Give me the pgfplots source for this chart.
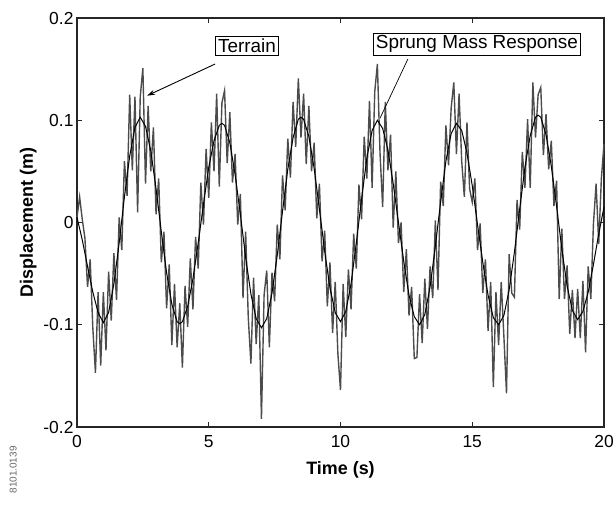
\documentclass[border=0pt]{standalone}
\usepackage{fontspec}
\setmainfont{Liberation Sans}
\usepackage{pgfplots}
\pgfplotsset{compat=1.18}
\usetikzlibrary{arrows.meta}

\begin{document}
\begin{tikzpicture}
\path[use as bounding box] (-77bp,-83bp) rectangle (536bp,427bp);
\begin{axis}[
  scale only axis, width=527bp, height=409bp,
  at={(0,0)}, anchor=south west,
  xmin=0, xmax=20, ymin=-0.2, ymax=0.2,
  xtick={0,5,10,15,20},
  ytick={-0.2,-0.1,0,0.1,0.2},
  yticklabels={-0.2,-0.1,0,0.1,0.2},
  tick align=inside, major tick length=5bp,
  axis line style={line width=1.1pt, black!85},
  tick style={black!85, line width=0.8pt},
  tick label style={font=\fontsize{17.5}{19}\selectfont},
  xticklabel style={/pgf/number format/assume math mode=true, yshift=-5bp},
  xlabel={Time (s)}, ylabel={Displacement (m)},
  label style={font=\fontsize{18}{20}\selectfont\bfseries},
  xlabel style={yshift=-7bp},
  clip=false,
]
% terrain profile
\addplot[black!70, line width=1.4pt] coordinates {
(0.0,0.005) (0.1,0.025) (0.2,0.003) (0.3,-0.015) (0.4,-0.063) (0.5,-0.036) (0.6,-0.103) (0.7,-0.147) (0.8,-0.068) (0.9,-0.140)
(1.0,-0.068) (1.1,-0.125) (1.2,-0.048) (1.3,-0.096) (1.4,-0.030) (1.5,-0.076) (1.6,0.005) (1.7,-0.027) (1.8,0.060) (1.9,0.026)
(2.0,0.125) (2.1,0.051) (2.2,0.123) (2.3,0.010) (2.4,0.123) (2.5,0.151) (2.6,0.038) (2.7,0.114) (2.8,0.050) (2.9,0.093)
(3.0,0.008) (3.1,0.043) (3.2,-0.039) (3.3,-0.009) (3.4,-0.084) (3.5,-0.041) (3.6,-0.120) (3.7,-0.060) (3.8,-0.122) (3.9,-0.079)
(4.0,-0.142) (4.1,-0.062) (4.2,-0.102) (4.3,-0.035) (4.4,-0.085) (4.5,-0.014) (4.6,-0.045) (4.7,0.039) (4.8,-0.002) (4.9,0.072)
(5.0,0.024) (5.1,0.098) (5.2,0.050) (5.3,0.126) (5.4,0.035) (5.5,0.117) (5.6,0.129) (5.7,0.058) (5.8,0.108) (5.9,0.039)
(6.0,0.067) (6.1,-0.002) (6.2,0.028) (6.3,-0.074) (6.4,-0.009) (6.5,-0.093) (6.6,-0.138) (6.7,-0.054) (6.8,-0.119) (6.9,-0.071)
(7.0,-0.192) (7.1,-0.071) (7.2,-0.047) (7.3,-0.122) (7.4,-0.049) (7.5,-0.077) (7.6,-0.002) (7.7,-0.036) (7.8,0.046) (7.9,0.012)
(8.0,0.082) (8.1,0.044) (8.2,0.118) (8.3,0.074) (8.4,0.141) (8.5,0.083) (8.6,0.126) (8.7,0.057) (8.8,0.114) (8.9,0.050)
(9.0,0.078) (9.1,0.004) (9.2,0.038) (9.3,-0.038) (9.4,-0.008) (9.5,-0.082) (9.6,-0.039) (9.7,-0.108) (9.8,-0.058) (9.9,-0.128)
(10.0,-0.164) (10.1,-0.060) (10.2,-0.112) (10.3,-0.046) (10.4,-0.085) (10.5,-0.011) (10.6,-0.045) (10.7,0.037) (10.8,0.003) (10.9,0.084)
(11.0,0.043) (11.1,0.119) (11.2,0.034) (11.3,0.128) (11.4,0.155) (11.5,0.068) (11.6,0.015) (11.7,0.118) (11.8,0.051) (11.9,0.086)
(12.0,-0.005) (12.1,0.050) (12.2,-0.020) (12.3,0.000) (12.4,-0.068) (12.5,-0.026) (12.6,-0.091) (12.7,-0.063) (12.8,-0.133) (12.9,-0.132)
(13.0,-0.070) (13.1,-0.118) (13.2,-0.055) (13.3,-0.104) (13.4,-0.043) (13.5,-0.074) (13.6,0.002) (13.7,-0.066) (13.8,0.040) (13.9,0.016)
(14.0,0.095) (14.1,0.056) (14.2,0.112) (14.3,0.137) (14.4,0.067) (14.5,0.126) (14.6,0.060) (14.7,0.025) (14.8,0.098) (14.9,0.033)
(15.0,0.020) (15.1,0.043) (15.2,-0.027) (15.3,-0.001) (15.4,-0.069) (15.5,-0.036) (15.6,-0.106) (15.7,-0.058) (15.8,-0.161) (15.9,-0.068)
(16.0,-0.120) (16.1,-0.058) (16.2,-0.111) (16.3,-0.167) (16.4,-0.031) (16.5,-0.069) (16.6,-0.073) (16.7,0.022) (16.8,-0.007) (16.9,0.069)
(17.0,0.034) (17.1,0.101) (17.2,0.034) (17.3,0.137) (17.4,0.083) (17.5,0.125) (17.6,0.132) (17.7,0.066) (17.8,0.106) (17.9,0.052)
(18.0,0.080) (18.1,0.016) (18.2,0.041) (18.3,-0.075) (18.4,-0.006) (18.5,-0.075) (18.6,-0.042) (18.7,-0.109) (18.8,-0.066) (18.9,-0.113)
(19.0,-0.065) (19.1,-0.113) (19.2,-0.057) (19.3,-0.127) (19.4,-0.043) (19.5,-0.075) (19.6,-0.001) (19.7,0.038) (19.8,-0.021) (19.9,0.043)
(20.0,0.077)
};
% sprung mass response
\addplot[black, line width=1.0pt] coordinates {
(0.0,0.005) (0.2,-0.017) (0.4,-0.043) (0.6,-0.068) (0.8,-0.088) (1.0,-0.098) (1.2,-0.088) (1.4,-0.060) (1.6,-0.020) (1.8,0.025)
(2.0,0.065) (2.2,0.093) (2.4,0.103) (2.6,0.094) (2.8,0.070) (3.0,0.033) (3.2,-0.009) (3.4,-0.049) (3.6,-0.080) (3.8,-0.097)
(3.9,-0.099) (4.0,-0.097) (4.2,-0.082) (4.4,-0.055) (4.6,-0.020) (4.8,0.018) (5.0,0.054) (5.2,0.080) (5.4,0.095) (5.5,0.097)
(5.6,0.095) (5.8,0.078) (6.0,0.047) (6.2,0.008) (6.4,-0.034) (6.6,-0.070) (6.8,-0.094) (7.0,-0.103) (7.2,-0.094) (7.4,-0.069)
(7.6,-0.032) (7.8,0.011) (8.0,0.052) (8.2,0.083) (8.4,0.101) (8.5,0.103) (8.6,0.101) (8.8,0.084) (9.0,0.053) (9.2,0.013)
(9.4,-0.028) (9.6,-0.064) (9.8,-0.088) (10.0,-0.097) (10.2,-0.087) (10.4,-0.060) (10.6,-0.020) (10.8,0.023) (11.0,0.063) (11.2,0.090)
(11.4,0.100) (11.6,0.092) (11.8,0.071) (12.0,0.038) (12.2,0.000) (12.4,-0.038) (12.6,-0.071) (12.8,-0.092) (13.0,-0.100) (13.2,-0.090)
(13.4,-0.063) (13.6,-0.023) (13.8,0.020) (14.0,0.060) (14.2,0.087) (14.4,0.097) (14.6,0.090) (14.8,0.068) (15.0,0.036) (15.2,-0.002)
(15.4,-0.039) (15.6,-0.071) (15.8,-0.093) (16.0,-0.100) (16.2,-0.091) (16.4,-0.066) (16.6,-0.029) (16.8,0.013) (17.0,0.054) (17.2,0.085)
(17.4,0.103) (17.5,0.105) (17.6,0.103) (17.8,0.086) (18.0,0.055) (18.2,0.016) (18.4,-0.026) (18.6,-0.062) (18.8,-0.086) (19.0,-0.095)
(19.2,-0.087) (19.4,-0.068) (19.6,-0.041) (19.8,-0.011) (20.0,0.015)
};
% annotations
\node[draw=black, fill=white, line width=0.6pt, inner sep=2.5bp,
      font=\fontsize{19}{21}\selectfont] at (axis cs:6.45,0.173) {Terrain};
\draw[-{Stealth[length=8bp,width=5bp]}, line width=0.9pt]
      (axis cs:5.24,0.155) -- (axis cs:2.66,0.124);
\node[draw=black, fill=white, line width=0.6pt, inner sep=2.5bp,
      font=\fontsize{19}{21}\selectfont] at (axis cs:15.18,0.1746) {Sprung Mass Response};
\draw[line width=0.7pt] (axis cs:12.56,0.160) -- (axis cs:11.5,0.102);
\node[rotate=90, text=black!60, font=\fontsize{10}{11}\selectfont]
      at (rel axis cs:-0.121,-0.105) {8101.0139};
\end{axis}
\end{tikzpicture}
\end{document}
